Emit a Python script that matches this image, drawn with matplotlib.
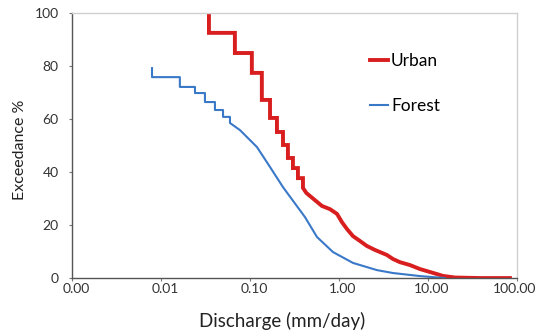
import matplotlib
matplotlib.use("Agg")
import matplotlib.pyplot as plt
from matplotlib.transforms import ScaledTranslation

# Urban flow-duration curve (discharge mm/day, exceedance %)
urban_q = [0.0346, 0.0346, 0.0677, 0.0677, 0.105, 0.105, 0.136, 0.136, 0.168, 0.168,
           0.201, 0.201, 0.235, 0.235, 0.267, 0.267, 0.304, 0.304, 0.346, 0.346,
           0.394, 0.394, 0.43, 0.537, 0.644, 0.792, 0.951, 1.08, 1.23, 1.44, 1.72,
           2.06, 2.54, 3.46, 4.04, 4.84, 6.28, 8.13, 10.5, 14.8, 20.1, 38.4, 83.4]
urban_p = [99.2, 92.5, 92.5, 84.9, 84.9, 77.4, 77.4, 67.2, 67.2, 60.4,
           60.4, 55.1, 55.1, 50.2, 50.2, 45.3, 45.3, 41.5, 41.5, 37.7,
           37.7, 34.0, 32.1, 29.4, 27.2, 26.0, 24.2, 21.1, 18.5, 15.8, 14.0,
           12.1, 10.6, 8.7, 7.2, 6.0, 4.9, 3.4, 2.3, 0.8, 0.2, 0.0, 0.0]

# Forest flow-duration curve
forest_q = [0.00793, 0.00793, 0.0163, 0.0163, 0.0241, 0.0241, 0.0312, 0.0312,
            0.0404, 0.0404, 0.0498, 0.0498, 0.0596, 0.0596, 0.0773, 0.120, 0.168,
            0.235, 0.415, 0.566, 0.857, 1.44, 2.67, 4.04, 8.13, 15.5]
forest_p = [79.2, 75.8, 75.8, 72.1, 72.1, 69.8, 69.8, 66.4,
            66.4, 63.4, 63.4, 60.8, 60.8, 58.5, 55.8, 49.4, 41.9,
            34.3, 23.0, 15.5, 9.8, 5.7, 3.0, 1.9, 0.75, 0.0]

x_ticks = [0.001, 0.01, 0.1, 1, 10, 100]
x_tick_labels = ["0.00", "0.01", "0.10", "1.00", "10.00", "100.00"]
y_ticks = [0, 20, 40, 60, 80, 100]

plt.rcParams['font.family'] = ['Lato', 'DejaVu Sans']

fig = plt.figure(figsize=(5.4, 3.33), dpi=100)
ax = fig.add_axes([0.1333, 0.165, 0.824, 0.796])

ax.plot(urban_q, urban_p, color='#d81e1e', lw=2.8, label='Urban', solid_joinstyle='miter')
ax.plot(forest_q, forest_p, color='#3a78c8', lw=1.5, label='Forest')

ax.set_xscale('log')
ax.set_xlim(0.001, 100)
ax.set_ylim(0, 100)
ax.set_xticks(x_ticks)
ax.set_xticklabels(x_tick_labels)
ax.minorticks_off()
ax.set_yticks(y_ticks)

for s in ['left', 'bottom']:
    ax.spines[s].set_color('#555555')
    ax.spines[s].set_linewidth(1.0)
for s in ['top', 'right']:
    ax.spines[s].set_color('#d0d0d0')
    ax.spines[s].set_linewidth(1.0)

ax.tick_params(axis='both', labelsize=10, colors='#777777', length=2.5, width=0.8,
               labelcolor='#333333')
ax.tick_params(axis='y', pad=7)
ax.tick_params(axis='x', pad=1)
labels = ax.get_xticklabels()
for i, lab in enumerate(labels):
    dx = 4 if i < len(labels) - 1 else -2
    lab.set_transform(lab.get_transform() + ScaledTranslation(dx / 100, 0, fig.dpi_scale_trans))

ax.set_xlabel('Discharge (mm/day)', fontsize=13.5, color='#222222')
ax.xaxis.set_label_coords(0.472, -0.128)
ax.set_ylabel('Exceedance %', fontsize=11.5, color='#222222')
ax.yaxis.set_label_coords(-0.101, 0.483)

leg = ax.legend(loc='upper left', bbox_to_anchor=(0.67, 0.85), frameon=False,
                fontsize=12.5, handlelength=1.03, handletextpad=0.17,
                labelspacing=1.7, borderaxespad=0, borderpad=0)

fig.savefig('out.png', dpi=100)
